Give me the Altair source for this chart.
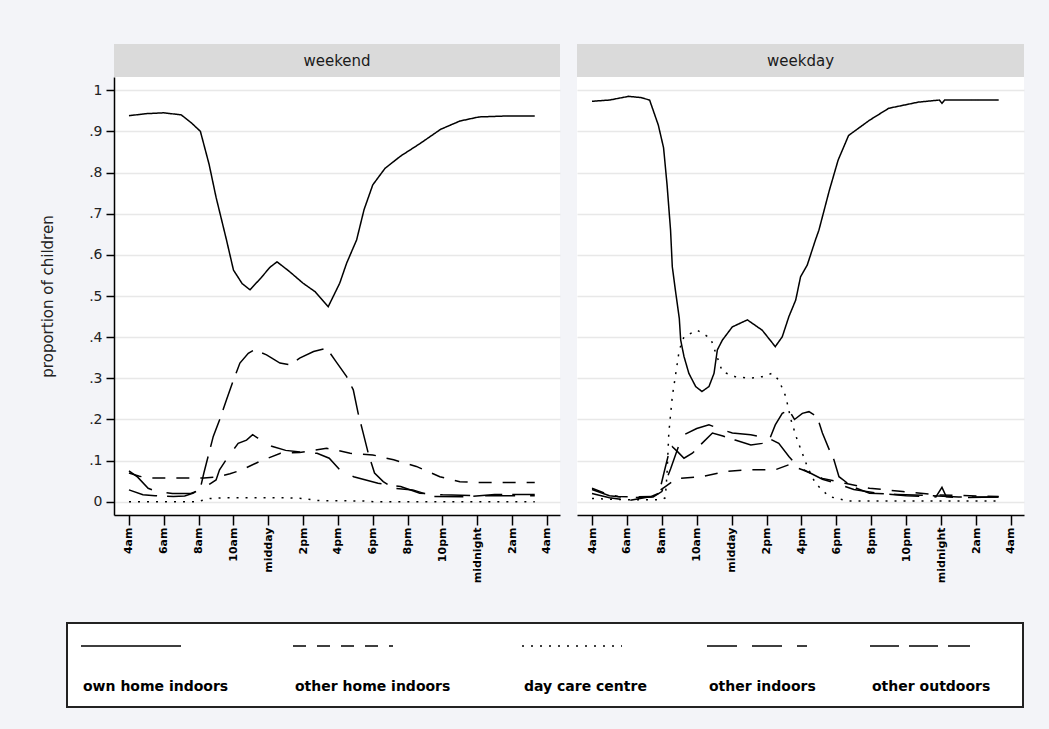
import json
import altair as alt
import pandas as pd

FONT = "DejaVu Sans"

# ---------------- data ----------------
SERIES = ["own home indoors", "other home indoors", "day care centre",
          "other indoors", "other outdoors"]
DAYS = ["weekend", "weekday"]

TICK_HOURS = [4, 6, 8, 10, 12, 14, 16, 18, 20, 22, 24, 26, 28]
TICK_LABELS = ["4am", "6am", "8am", "10am", "midday", "2pm", "4pm", "6pm",
               "8pm", "10pm", "midnight", "2am", "4am"]
Y_TICKS = [0.0, 0.1, 0.2, 0.3, 0.4, 0.5, 0.6, 0.7, 0.8, 0.9, 1.0]

# weekend
WE_OWN_H = [4, 5, 6, 7, 7.6, 8.1, 8.6, 9.0, 9.6, 10.0, 10.5, 10.95, 11.6, 12.1, 12.5, 13.2,
            14.0, 14.7, 15.44, 16.1, 16.5, 17.07, 17.5, 18.0, 18.7, 19.6, 20.7, 21.9, 23.0,
            24.1, 25.5, 27.3]
WE_OWN_V = [.938, .943, .945, .94, .92, .90, .82, .74, .636, .563, .53, .515, .545, .57, .583,
            .56, .531, .51, .474, .531, .58, .636, .71, .77, .81, .84, .87, .905, .925, .935,
            .937, .937]

WE_OHI_H = [4, 4.6, 5.2, 6.5, 7.5, 8.3, 9.0, 9.8, 10.5, 11.5, 12.7, 13.8, 14.6, 15.35, 16.0,
            16.7, 18.0, 19.2, 20.5, 21.85, 23.0, 24.0, 27.3]
WE_OHI_V = [.07, .062, .058, .058, .058, .058, .06, .068, .078, .098, .118, .12, .125, .13,
            .125, .118, .114, .102, .086, .061, .049, .047, .047]

WE_DCC_H = [4, 7.9, 8.65, 9.6, 13.0, 14.0, 14.8, 17.5, 18.2, 27.3]
WE_DCC_V = [.0, .0, .008, .01, .01, .008, .003, .002, .0, .0]

WE_OI_H = [4, 4.5, 5.1, 5.6, 6.5, 7.5, 8.2, 8.7, 9.0, 9.2, 9.7, 10.27, 10.75, 11.1, 11.4,
           11.7, 12.2, 13.0, 14.0, 14.8, 15.5, 16.1, 16.9, 17.6, 18.3, 19.6, 20.7, 22.0,
           24.0, 27.3]
WE_OI_V = [.075, .06, .033, .025, .02, .02, .03, .045, .053, .078, .11, .142, .15, .163, .155,
           .15, .135, .125, .12, .118, .106, .078, .061, .053, .045, .037, .021, .017, .015,
           .015]

WE_OO_H = [4, 4.8, 5.5, 6.55, 7.2, 7.7, 8.1, 8.3, 8.84, 9.2, 9.6, 10.0, 10.37, 10.85, 11.2,
           11.9, 12.67, 13.24, 13.8, 14.6, 15.35, 15.9, 16.5, 16.88, 17.16, 17.45, 17.74,
           18.1, 18.6, 19.2, 20.3, 21.5, 23.4, 25.0, 27.3]
WE_OO_V = [.029, .017, .015, .013, .014, .021, .033, .07, .159, .199, .248, .296, .337, .361,
           .369, .357, .337, .333, .349, .365, .373, .34, .304, .272, .215, .167, .118, .07,
           .049, .033, .029, .013, .012, .018, .018]

# weekday
WD_OWN_H = [4, 5, 6.1, 6.8, 7.3, 7.8, 8.1, 8.3, 8.5, 8.6, 8.8, 9.0, 9.08, 9.27, 9.55, 9.94,
            10.3, 10.7, 10.99, 11.18, 11.47, 12.04, 12.9, 13.75, 14.5, 14.9, 15.28, 15.67,
            15.95, 16.33, 16.8, 17.0, 17.6, 18.1, 18.7, 19.9, 21.0, 22.7, 23.9, 24.05, 24.2,
            27.3]
WD_OWN_V = [.973, .976, .985, .982, .976, .915, .86, .77, .66, .571, .507, .446, .393, .353,
            .312, .28, .268, .28, .312, .369, .393, .425, .442, .417, .377, .401, .45, .49,
            .547, .575, .636, .66, .757, .83, .89, .927, .956, .971, .976, .968, .976, .976]

WD_OHI_H = [4, 4.8, 5.5, 6.5, 7.4, 8.2, 8.8, 9.0, 10.3, 11.66, 13.0, 14.5, 15.28, 16.05,
            17.2, 18.5, 19.9, 21.8, 23.7, 27.3]
WD_OHI_V = [.033, .02, .013, .012, .013, .037, .055, .057, .061, .074, .078, .078, .09, .078,
            .057, .045, .033, .025, .017, .013]

WD_DCC_H = [4, 6, 8.0, 8.2, 8.3, 8.4, 8.6, 8.8, 9.0, 9.27, 10.03, 10.8, 11.1, 11.47, 12.2,
            13.0, 13.75, 14.3, 14.7, 15.1, 15.4, 15.76, 16.05, 16.33, 16.8, 17.57, 18.7, 27.3]
WD_DCC_V = [.008, .005, .005, .01, .07, .167, .256, .312, .369, .401, .417, .397, .36, .316,
            .304, .3, .304, .312, .296, .256, .199, .15, .118, .086, .045, .013, .002, .002]

WD_OI_H = [4, 5, 6, 7.5, 8.0, 8.5, 9.0, 9.27, 10.0, 10.7, 11.3, 12.04, 13.09, 14.1, 14.7,
           15.28, 15.8, 16.5, 17.2, 18.0, 19.0, 20.5, 22.0, 23.7, 24.05, 24.3, 25.0, 27.3]
WD_OI_V = [.03, .015, .01, .012, .025, .08, .14, .163, .178, .187, .178, .167, .163, .155,
           .142, .11, .085, .07, .055, .045, .03, .02, .015, .012, .035, .012, .01, .012]

WD_OO_H = [4, 5, 6.1, 7.4, 7.84, 8.12, 8.4, 8.6, 8.9, 9.27, 9.75, 10.3, 10.9, 11.5, 12.2,
           13.1, 13.75, 14.2, 14.5, 14.9, 15.28, 15.6, 16.05, 16.43, 16.9, 17.2, 17.6, 17.86,
           18.15, 18.9, 19.9, 21.5, 23.5, 25.0, 27.3]
WD_OO_V = [.02, .01, .003, .013, .021, .07, .118, .134, .122, .106, .118, .142, .167, .16,
           .15, .138, .142, .155, .187, .215, .223, .2, .215, .219, .207, .167, .126, .102,
           .061, .037, .021, .018, .015, .012, .012]

# ---------------- styles / layout ----------------
DASHES = [[1, 0], [13, 11], [2, 7], [30, 15], [29, 10]]
BG = "#f3f4f8"
HEADER_FILL = "#dadada"
GRID = "#e8e8e8"
PANEL_W = [446, 447]
PANEL_H = 438
HEADER_H = 33
X_DOMAIN = [3.14, 28.75]
Y_DOMAIN = [-0.032, 1.032]
PAD = {"left": 40, "top": 44, "right": 25, "bottom": 23}
ORIGIN_X = 114           # page x of the left panel (legend origin aligns here)
LEG_W = 910
LEG_H = 84
LEG_BOX = [67 - ORIGIN_X, 1023 - ORIGIN_X]
LEGEND_X_ABS = [81, 293, 522, 707, 870]
LEG_SAMPLE = 100

rows = []


def add(day, series, hours, values):
    for h, v in zip(hours, values):
        rows.append({"day": day, "series": series, "hour": h, "value": v})


add("weekend", SERIES[0], WE_OWN_H, WE_OWN_V)
add("weekend", SERIES[1], WE_OHI_H, WE_OHI_V)
add("weekend", SERIES[2], WE_DCC_H, WE_DCC_V)
add("weekend", SERIES[3], WE_OI_H, WE_OI_V)
add("weekend", SERIES[4], WE_OO_H, WE_OO_V)
add("weekday", SERIES[0], WD_OWN_H, WD_OWN_V)
add("weekday", SERIES[1], WD_OHI_H, WD_OHI_V)
add("weekday", SERIES[2], WD_DCC_H, WD_DCC_V)
add("weekday", SERIES[3], WD_OI_H, WD_OI_V)
add("weekday", SERIES[4], WD_OO_H, WD_OO_V)
df = pd.DataFrame(rows)

dash_scale = alt.Scale(domain=SERIES, range=DASHES)

x_label_expr = "%s[indexof(%s, datum.value)]" % (json.dumps(TICK_LABELS), json.dumps(TICK_HOURS))
y_label_expr = ("datum.value == 0 ? '0' : datum.value >= 0.999 ? '1' : "
                "substring(format(datum.value, '.1f'), 1)")


def x_axis():
    return alt.Axis(values=TICK_HOURS, labelExpr=x_label_expr, labelAngle=270,
                    labelFont=FONT, labelFontSize=11, labelFontWeight="bold",
                    labelColor="black", labelPadding=2, tickSize=10, tickColor="black",
                    tickWidth=1.5, domainColor="black", domainWidth=1.5, grid=False,
                    title=None, labelOverlap=False, labelFlush=False)


def y_axis(first):
    if first:
        return alt.Axis(values=Y_TICKS, labelExpr=y_label_expr,
                        title="proportion of children", titleFont=FONT, titleFontSize=15,
                        titleFontWeight="normal", titleColor="#222", titlePadding=33,
                        labelFont=FONT, labelFontSize=14, labelColor="#222", labelPadding=4,
                        tickSize=8, tickColor="black", tickWidth=1.5, domainColor="black",
                        domainWidth=1.5, grid=True, gridColor=GRID, gridWidth=1.5,
                        labelOverlap=False, labelFlush=False)
    return alt.Axis(values=Y_TICKS, labels=False, ticks=False, domain=False, title=None,
                    grid=True, gridColor=GRID, gridWidth=1.5)


def panel(day, idx):
    return alt.Chart(df).transform_filter(alt.datum.day == day).mark_line(
        color="black", strokeWidth=1.5
    ).encode(
        x=alt.X("hour:Q", scale=alt.Scale(domain=X_DOMAIN, nice=False, zero=False),
                axis=x_axis()),
        y=alt.Y("value:Q", scale=alt.Scale(domain=Y_DOMAIN, nice=False, zero=False),
                axis=y_axis(idx == 0)),
        strokeDash=alt.StrokeDash("series:N", scale=dash_scale, legend=None),
        order="hour:Q",
    ).properties(width=PANEL_W[idx], height=PANEL_H,
                 view=alt.ViewBackground(fill="white", stroke=None))


def header(day, idx):
    return alt.Chart(pd.DataFrame({"day": [day]})).mark_text(
        font=FONT, fontSize=15, color="#1a1a1a", baseline="middle"
    ).encode(
        text="day:N", x=alt.value(PANEL_W[idx] / 2), y=alt.value(HEADER_H / 2)
    ).properties(width=PANEL_W[idx], height=HEADER_H,
                 view=alt.ViewBackground(fill=HEADER_FILL, stroke=None))


cols = [alt.vconcat(header(d, i), panel(d, i), spacing=0) for i, d in enumerate(DAYS)]
top = alt.hconcat(*cols, spacing=17)

leg_df = pd.DataFrame({"series": SERIES,
                       "col_x": [x - ORIGIN_X for x in LEGEND_X_ABS]})
leg_x = alt.Scale(domain=[0, LEG_W], range=[0, LEG_W], nice=False, zero=False)

box = alt.Chart(pd.DataFrame({"a": [0]})).mark_rect(
    fill="white", stroke="#222", strokeWidth=2
).encode(x=alt.value(LEG_BOX[0]), x2=alt.value(LEG_BOX[1]), y=alt.value(0), y2=alt.value(LEG_H))

samples = alt.Chart(leg_df).transform_calculate(
    x_end="datum.col_x + %d" % LEG_SAMPLE
).mark_rule(color="black", strokeWidth=1.5).encode(
    x=alt.X("col_x:Q", scale=leg_x, axis=None),
    x2="x_end:Q",
    y=alt.value(23),
    strokeDash=alt.StrokeDash("series:N", scale=dash_scale, legend=None),
)

labels = alt.Chart(leg_df).mark_text(
    align="left", baseline="middle", font=FONT, fontSize=14, fontWeight="bold",
    color="black", dx=2
).encode(
    x=alt.X("col_x:Q", scale=leg_x, axis=None),
    y=alt.value(64),
    text="series:N",
)

legend = alt.layer(box, samples, labels).properties(
    width=LEG_W, height=LEG_H, view=alt.ViewBackground(fill=None, stroke=None))

chart = alt.vconcat(top, legend, spacing=39).properties(
    padding=PAD, background=BG
).configure_view(stroke=None)

chart.save("out.html", embed_options={"renderer": "svg", "actions": False})
